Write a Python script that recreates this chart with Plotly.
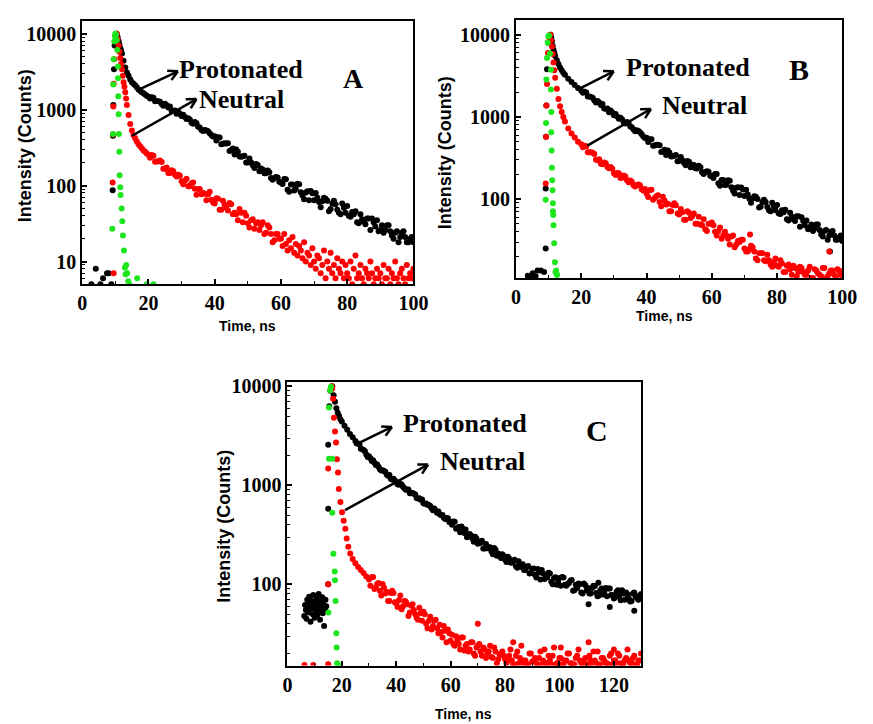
import math
import plotly.graph_objects as go

W, H = 873, 724


def px(x):
    return x / W


def py(y):
    return 1 - y / H


# ----------------------------- Panel A data -----------------------------
A_blk_t = ([2.8, 4.1, 5.5, 6.3, 7.5, 8.0, 8.8, 9.2, 9.3, 9.4, 9.6, 9.8, 10.1]
           + [10.4, 10.7, 11, 11.25, 11.5, 11.75, 12, 12.5, 13, 13.5, 14, 14.5, 15, 15.5, 16, 16.5,
              17, 17.5, 18, 18.5, 19, 19.5, 20]
           + list(range(21, 101))
           + [x + 0.5 for x in range(20, 100)])
A_blk_v = ([5, 8, 5, 6, 7, 7, 5, 87, 455, 1150, 3400, 7000, 9500]
           + [10000, 9000, 8000, 7200, 6500, 6000, 5500, 4400, 3600, 3100, 2800, 2500, 2300, 2200, 2100,
              1980, 1850, 1780, 1700, 1640, 1580, 1530, 1480]
           + [1463, 1296, 1293, 1186, 1197, 1069, 969, 979, 936, 825,
              800, 773, 672, 688, 598, 542, 540, 520, 463, 446,
              432, 350, 362, 360, 295, 257, 279, 240, 248, 201,
              202, 170, 187, 168, 145, 158, 126, 125, 128, 110,
              122, 88, 103, 86, 106, 82, 66, 84, 85, 64,
              69, 52, 69, 63, 49, 63, 48, 42, 51, 54,
              39, 42, 33, 42, 34, 37, 26, 33, 35, 26,
              24, 30, 25, 20, 25, 21, 25, 18, 20, 18]
           + [1407, 1440, 1302, 1270, 1128, 1143, 1103, 970, 884, 884,
              858, 752, 740, 651, 664, 584, 524, 533, 489, 443,
              392, 429, 356, 359, 286, 308, 298, 241, 243, 202,
              228, 185, 192, 155, 163, 145, 150, 119, 130, 112,
              105, 121, 83, 103, 90, 104, 74, 81, 64, 79,
              80, 61, 62, 67, 46, 58, 57, 44, 58, 44,
              40, 45, 46, 32, 36, 31, 37, 37, 29, 25,
              30, 26, 30, 22, 24, 18, 24, 21, 18, 21])

A_red_t = ([9.5, 9.2, 9.3, 9.4, 9.5, 9.7, 10.0, 10.4, 10.7, 11, 11.25, 11.5, 11.75, 12, 12.25, 12.5,
            12.75, 13, 13.25, 13.5, 14, 14.5, 15, 15.5, 16, 16.5, 17, 17.5, 18, 18.5, 19, 19.5, 20]
           + list(range(21, 60))
           + [x + 0.5 for x in range(20, 60)]
           + [x / 2 for x in range(120, 201)])
A_red_v = ([7, 110, 470, 1100, 2200, 4600, 8000, 10000, 8500, 7000, 5800, 4800, 4000, 3400, 2800, 2300,
            2000, 1700, 1400, 1150, 850, 650, 530, 460, 420, 380, 350, 330, 310, 290, 280, 265, 255]
           + [252, 206, 210, 205, 167, 147, 159, 139, 139, 114,
              116, 98, 107, 91, 90, 77, 78, 77, 65, 58,
              67, 48, 56, 47, 57, 44, 35, 44, 44, 32,
              35, 27, 33, 30, 23, 30, 23, 19, 23]
           + [232, 247, 208, 214, 167, 173, 147, 154, 132, 135,
              104, 123, 98, 110, 76, 90, 80, 64, 83, 60,
              68, 48, 63, 51, 59, 42, 42, 49, 33, 40,
              28, 36, 32, 26, 33, 24, 28, 18, 23, 20]
           + [20, 16, 23, 17, 14, 19, 15, 21, 13, 17, 12, 16, 14, 11, 18, 10, 13, 12, 9, 15,
              10, 8, 12, 11, 7, 9, 14, 6, 10, 8, 13, 7, 9, 6, 11, 8, 7, 10, 6, 9,
              7, 6, 10, 5, 8, 12, 6, 7, 9, 6, 5, 8, 7, 6, 10, 7, 5, 6, 8, 6,
              7, 5, 9, 6, 6, 8, 5, 7, 6, 10, 6, 5, 7, 8, 6, 5, 9, 6, 7, 6, 8])

A_grn_t = [9.1, 9.3, 9.4, 9.5, 9.7, 9.9, 10.0, 10.2, 10.4, 10.6, 10.8, 10.8, 10.9, 11.0, 11.1, 11.2,
           11.3, 11.5, 11.6, 11.9, 12.1, 12.3, 12.6, 12.9, 13.1, 13.3, 13.6, 13.9, 14.2, 16.6, 19.5, 21.5]
A_grn_v = [27, 480, 2150, 4600, 7900, 9300, 10000, 9600, 8200, 6100, 3700, 2600, 1500, 870, 480, 280,
           137, 95, 75, 50, 34, 22, 14, 8.3, 6.8, 9, 7, 5.5, 5, 6, 5, 5]

# ----------------------------- Panel B data -----------------------------
B_blk_t = ([3.6, 4.5, 5.1, 6.0, 6.6, 7.6, 8.6, 9.1, 9.1, 9.2, 9.3, 9.5, 9.8, 10.2]
           + [10.6, 10.8, 11, 11.25, 11.5, 11.75, 12, 12.5, 13, 13.5, 14, 14.5, 15, 16, 17, 18, 19, 20]
           + list(range(21, 101))
           + [x + 0.5 for x in range(20, 100)]
           + [96.2])
B_blk_v = ([11.7, 11.2, 12.5, 11.5, 13.5, 13.5, 13, 25, 135, 575, 1380, 3800, 8000, 9500]
           + [10000, 9200, 8300, 7300, 6500, 6000, 5500, 4900, 4400, 4000, 3700, 3450, 3250, 2900, 2650,
              2450, 2250, 2080]
           + [2019, 1766, 1747, 1578, 1560, 1396, 1267, 1265, 1195, 1048,
              1010, 979, 854, 868, 764, 701, 687, 649, 579, 556,
              536, 445, 457, 451, 380, 343, 369, 331, 343, 291,
              296, 258, 284, 262, 237, 255, 212, 213, 215, 189,
              202, 156, 171, 148, 169, 139, 117, 139, 138, 109,
              114, 90, 108, 100, 81, 98, 80, 71, 82, 85,
              66, 69, 57, 68, 57, 62, 46, 54, 55, 45,
              41, 49, 42, 35, 42, 36, 41, 32, 34, 31]
           + [1959, 1976, 1767, 1703, 1493, 1499, 1433, 1254, 1140, 1131,
              1087, 951, 938, 828, 848, 747, 670, 675, 614, 554,
              495, 534, 449, 455, 373, 397, 389, 329, 337, 288,
              324, 275, 290, 244, 260, 236, 244, 202, 218, 192,
              181, 202, 145, 171, 149, 167, 126, 137, 112, 131,
              130, 101, 102, 107, 79, 92, 92, 73, 90, 73,
              67, 73, 74, 55, 61, 54, 62, 60, 48, 43,
              49, 44, 49, 37, 41, 32, 40, 36, 32, 36]
           + [23])

B_red_t = ([9.1, 9.2, 9.3, 9.5, 9.8, 10.2, 10.5, 10.75, 11, 11.25, 11.5, 11.75, 12, 12.5, 13, 13.5, 14,
            14.5, 15, 16, 17, 18, 19, 20]
           + list(range(21, 101))
           + [x + 0.5 for x in range(20, 100)]
           + [71.7, 96.0])
B_red_v = ([155, 575, 1380, 2520, 6000, 9000, 10000, 8500, 7200, 5800, 4600, 3700, 3000, 2200, 1650,
            1350, 1150, 1000, 880, 720, 630, 560, 500, 465]
           + [447, 372, 371, 354, 297, 269, 279, 246, 245, 206,
              208, 181, 193, 169, 168, 147, 148, 147, 127, 117,
              129, 98, 108, 92, 107, 86, 71, 85, 84, 65,
              69, 56, 68, 62, 50, 61, 48, 43, 50, 52,
              40, 41, 33, 40, 33, 35, 26, 31, 32, 25,
              23, 27, 23, 18, 22, 18, 21, 16, 17, 15.5,
              18, 13, 15.5, 14, 15.5, 11.5, 15, 13, 12, 15,
              11, 13.5, 12, 14.5, 11, 12.5, 13.5, 11.5, 13.5, 12]
           + [426, 438, 372, 366, 301, 305, 265, 272, 238, 234,
              197, 206, 182, 188, 160, 162, 142, 150, 132, 133,
              106, 130, 103, 111, 82, 96, 88, 71, 89, 67,
              76, 56, 71, 59, 67, 50, 49, 57, 41, 50,
              48, 36, 45, 36, 36, 28, 36, 28, 30, 32,
              23, 24.5, 26, 19, 22, 22, 17.5, 18, 15, 19,
              15, 16.5, 13, 16, 12, 14.5, 13, 14.5, 12, 13.5,
              11, 14, 12.5, 11.5, 14.5, 11.5, 13.5, 12, 14, 12]
           + [37, 23])

B_grn_t = [9.1, 9.2, 9.3, 9.5, 9.7, 9.9, 10.1, 10.4, 10.7, 10.7, 10.8, 10.8, 10.9, 11.0, 11.1, 11.2,
           11.3, 11.3, 11.4, 11.5, 11.7, 11.9, 12.1, 12.3, 12.5, 12.6]
B_grn_v = [98, 840, 2850, 5200, 8000, 9500, 9800, 5900, 3750, 2150, 1150, 650, 390, 240, 170, 128,
           89, 71, 64, 48, 29, 17, 13, 13.5, 12, 12]

# ----------------------------- Panel C data -----------------------------
C_blk_t = ([6.2, 6.5, 6.8, 7.0, 7.3, 7.5, 7.8, 8.0, 8.3, 8.5, 8.8, 9.0, 9.3, 9.5, 9.8, 10.0, 10.3,
            10.5, 10.8, 11.0, 11.3, 11.5, 11.8, 12.0, 12.3, 12.5, 12.8, 13.0, 13.3, 13.5, 13.8, 14.0,
            14.3, 15.0, 15.0, 15.0, 15.4, 15.8]
           + [16.5, 17, 17.5, 18, 18.5, 19, 19.5, 20, 21, 22, 23, 24, 25]
           + list(range(26, 131))
           + [x + 0.5 for x in range(25, 130)]
           + [114.3, 110.7, 127.5, 118.5])
C_blk_v = ([48, 62, 55, 45, 70, 58, 52, 75, 64, 42, 57, 68, 50, 78, 60, 46, 66, 55, 72, 49, 61, 80,
            53, 44, 67, 58, 74, 51, 63, 38, 56, 70, 60, 100, 580, 2570, 6300, 9000]
           + [10000, 8100, 7000, 6000, 5400, 5000, 4650, 4400, 4000, 3650, 3300, 3050, 2800]
           + [2652, 2347, 2273, 2049, 1967, 1764, 1690, 1622, 1450, 1424,
              1375, 1252, 1164, 1163, 1080, 1014, 1020, 936, 909, 834,
              838, 810, 735, 714, 660, 657, 632, 586, 582, 529,
              511, 503, 457, 464, 430,
              431, 364, 380, 384, 330, 299, 322, 290, 303, 257,
              263, 230, 255, 237, 215, 233, 195, 197, 201, 178,
              190, 166, 173, 152, 171, 150, 140, 150, 129, 143,
              125, 143, 112, 129, 117, 131, 106, 115, 99, 116,
              119, 99, 101, 109, 86, 99, 102, 83, 102, 87,
              81, 92, 96, 76, 87, 79, 92, 91, 78, 72,
              84, 77, 87, 70, 79, 67, 81, 75, 70, 80]
           + [2646, 2585, 2312, 2203, 1930, 1874, 1797, 1607, 1542, 1408,
              1399, 1287, 1269, 1147, 1121, 1025, 1032, 967, 904, 906,
              833, 820, 745, 739, 718, 652, 635, 618, 561, 558,
              544, 499, 472, 469, 427,
              399, 428, 374, 335, 362, 359, 304, 312, 269, 290,
              262, 275, 230, 231, 237, 202, 224, 205, 185, 193,
              168, 182, 165, 177, 147, 158, 160, 140, 153, 131,
              145, 117, 132, 140, 113, 118, 129, 100, 118, 105,
              97, 117, 97, 103, 111, 87, 92, 100, 81, 98,
              92, 81, 97, 82, 77, 91, 85, 76, 91, 78,
              74, 87, 69, 81, 83, 72, 68, 83, 73, 77]
           + [104, 63, 54, 59])

C_red_t = ([6.3, 9.5, 15.0, 15.0, 15.0, 15.9]
           + [16.3, 16.5, 16.8, 17.1, 17.5, 17.9, 18.2, 18.6, 18.9, 19.5, 20.1, 20.7, 21.3, 21.8, 22.4,
              23.1, 24, 25, 26, 27, 28, 29, 30]
           + list(range(31, 131))
           + [x + 0.5 for x in range(30, 130)]
           + [70, 83, 110.7, 100.5, 120])
C_red_v = ([15.3, 15.3, 15.6, 100, 1480, 9200]
           + [10000, 9500, 7500, 4800, 3500, 2700, 1830, 1350, 920, 680, 535, 440, 365, 290, 240, 205,
              180, 163, 150, 140, 130, 120, 112]
           + [118, 90, 101, 86, 101, 81, 68, 82, 82, 64,
              69, 56, 68, 63, 52, 63, 50, 44, 51, 53,
              40, 43, 35, 43, 36, 39, 29, 34, 35, 27,
              25, 30, 25, 29, 21.5, 25, 22, 26, 19, 24,
              21, 23, 18, 21, 18.5, 23, 16, 19.5, 21, 17.5,
              17, 22, 15.5, 19, 16, 24, 17, 15.5, 20, 16.5,
              18, 15.5, 21, 17, 16, 19, 15.5, 23, 16, 18,
              15.5, 17, 20, 16, 15.5, 18, 22, 16, 17, 15.5,
              19, 16, 17, 21, 15.5, 18, 16, 15.5, 20, 17,
              16, 19, 15.5, 17, 22, 16, 18, 15.5, 17, 20]
           + [97, 119, 93, 103, 77, 93, 84, 68, 86, 66,
              59, 77, 60, 67, 48, 61, 55, 46, 58, 43,
              50, 36, 47, 38, 44, 32, 33, 38, 26, 32,
              31, 24, 27, 22, 29, 24, 21, 26, 20, 23,
              25, 19, 22, 20, 24, 18, 21, 17.5, 20, 19,
              16, 19, 17, 15.5, 21, 18, 16, 17, 15.5, 20,
              17, 16, 18, 15.5, 22, 16, 17, 19, 15.5, 16,
              18, 15.5, 17, 20, 16, 15.5, 19, 17, 16, 18,
              15.5, 17, 21, 16, 15.5, 18, 17, 16, 19, 15.5,
              17, 20, 16, 15.5, 18, 17, 16, 19, 15.5, 17]
           + [40, 26, 26, 23, 22])

C_grn_t = [15.1, 15.3, 15.3, 15.7, 16.0, 16.5, 16.5, 16.9, 17.4, 17.5, 17.7, 18.0, 18.1, 18.3, 18.6]
C_grn_v = [52, 1860, 6100, 9100, 9900, 1860, 530, 204, 135, 110, 68, 32, 23, 16, 15.5]

for a, b in [(A_blk_t, A_blk_v), (A_red_t, A_red_v), (A_grn_t, A_grn_v),
             (B_blk_t, B_blk_v), (B_red_t, B_red_v), (B_grn_t, B_grn_v),
             (C_blk_t, C_blk_v), (C_red_t, C_red_v), (C_grn_t, C_grn_v)]:
    assert len(a) == len(b), (len(a), len(b))

BLACK, RED, GREEN = "#000000", "#ff0000", "#1ee61e"

fig = go.Figure()


def add(t, v, color, xa, ya):
    fig.add_trace(go.Scatter(x=t, y=v, mode="markers", xaxis=xa, yaxis=ya,
                             marker=dict(color=color, size=6, line=dict(width=0)),
                             showlegend=False, hoverinfo="skip"))


for xa, ya, data in [("x", "y", [(A_blk_t, A_blk_v, BLACK), (A_red_t, A_red_v, RED), (A_grn_t, A_grn_v, GREEN)]),
                     ("x2", "y2", [(B_blk_t, B_blk_v, BLACK), (B_red_t, B_red_v, RED), (B_grn_t, B_grn_v, GREEN)]),
                     ("x3", "y3", [(C_blk_t, C_blk_v, BLACK), (C_red_t, C_red_v, RED), (C_grn_t, C_grn_v, GREEN)])]:
    for t, v, c in data:
        add(t, v, c, xa, ya)

tickfont = dict(family="Liberation Serif, Times New Roman, serif", size=20, color="black", weight="bold")
minor_vals = [m * 10 ** k for k in range(0, 5) for m in range(2, 10)]


def xaxis_cfg(dom, rng, anchor):
    return dict(domain=dom, range=rng, anchor=anchor, showline=True, linecolor="black", linewidth=2,
                mirror=True, ticks="inside", ticklen=5, tickwidth=1.5, tickcolor="black",
                showgrid=False, zeroline=False, tickmode="linear", tick0=0, dtick=20,
                tickfont=tickfont,
                minor=dict(ticks="inside", ticklen=3, tickwidth=1.2, tickcolor="black",
                           tickmode="linear", tick0=0, dtick=10, showgrid=False))


def yaxis_cfg(dom, rng, anchor, vals):
    return dict(domain=dom, range=rng, anchor=anchor, type="log", showline=True, linecolor="black",
                linewidth=2, mirror=True, ticks="inside", ticklen=5, tickwidth=1.5, tickcolor="black",
                showgrid=False, zeroline=False, tickmode="array", tickvals=vals,
                ticktext=[str(v) for v in vals], tickfont=tickfont,
                minor=dict(ticks="inside", ticklen=3, tickwidth=1, tickcolor="black",
                           tickmode="array", tickvals=minor_vals, showgrid=False))


fig.update_layout(
    width=W, height=H, margin=dict(l=0, r=0, t=0, b=0),
    paper_bgcolor="white", plot_bgcolor="white",
    xaxis=xaxis_cfg([px(79), px(418)], [0, 100], "y"),
    yaxis=yaxis_cfg([py(280), py(14)], [0.70, 4.17], "x", [10, 100, 1000, 10000]),
    xaxis2=xaxis_cfg([px(523), px(857)], [0, 100], "y2"),
    yaxis2=yaxis_cfg([py(274), py(13)], [1.036, 4.18], "x2", [100, 1000, 10000]),
    xaxis3=xaxis_cfg([px(289), px(651)], [0, 130], "y3"),
    yaxis3=yaxis_cfg([py(665), py(379)], [1.18, 4.04], "x3", [100, 1000, 10000]),
)

serif = "Liberation Serif, Times New Roman, serif"
sans = "Liberation Sans, Arial, sans-serif"
annotations = []


def text(x, y, s, size, family, angle=0):
    annotations.append(dict(x=px(x), y=py(y), xref="paper", yref="paper", text=s, showarrow=False,
                            xanchor="center", yanchor="middle", textangle=angle,
                            font=dict(family=family, size=size, color="black", weight="bold")))


# panel labels
text(242, 63, "Protonated", 26, serif)
text(242, 93, "Neutral", 26, serif)
text(357, 72, "A", 28, serif)
text(699, 61, "Protonated", 26, serif)
text(716, 99, "Neutral", 26, serif)
text(813, 63, "B", 30, serif)
text(471, 421, "Protonated", 26, serif)
text(489, 459, "Neutral", 26, serif)
text(606, 428, "C", 30, serif)

# axis titles
text(248, 322, "Time, ns", 14, sans)
text(675, 312, "Time, ns", 14, sans)
text(469, 714, "Time, ns", 14, sans)
text(20, 140, "Intensity (Counts)", 18, sans, -90)
text(450, 147, "Intensity (Counts)", 18, sans, -90)
text(224, 524, "Intensity (Counts)", 18, sans, -90)

shapes = []


def arrow(x0, y0, x1, y1, head=11, ang=28):
    shapes.append(dict(type="line", xref="paper", yref="paper", x0=px(x0), y0=py(y0), x1=px(x1), y1=py(y1),
                       line=dict(color="black", width=2.5)))
    th = math.atan2(y1 - y0, x1 - x0)
    for s in (1, -1):
        a = th + math.pi - s * math.radians(ang)
        hx, hy = x1 + head * math.cos(a), y1 + head * math.sin(a)
        shapes.append(dict(type="line", xref="paper", yref="paper", x0=px(x1), y0=py(y1), x1=px(hx), y1=py(hy),
                           line=dict(color="black", width=2.5)))


arrow(138, 83, 177, 65)
arrow(130, 130, 196, 93)
arrow(587, 83, 623, 65)
arrow(596, 140, 661, 103)
arrow(363, 440, 396, 424)
arrow(348, 508, 433, 462)

fig.update_layout(annotations=annotations, shapes=shapes)
fig.write_html("out.html")
